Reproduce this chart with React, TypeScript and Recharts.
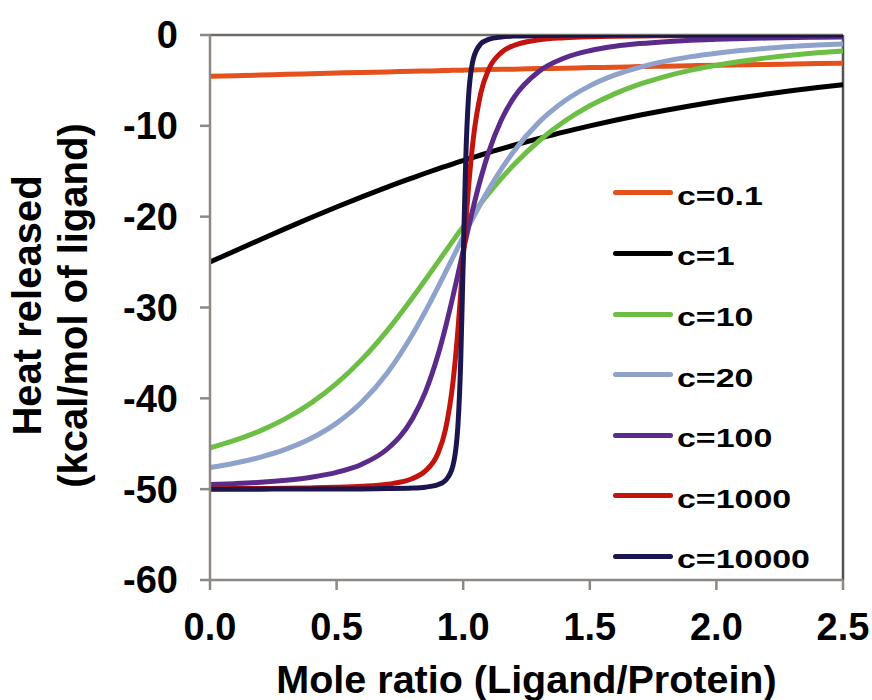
import React from 'react';
import { LineChart, Line, XAxis, YAxis, ReferenceLine, Legend } from 'recharts';

// Mole ratio (Ligand/Protein) sample positions
const moleRatio = [0, 0.1, 0.2, 0.3, 0.4, 0.5, 0.6, 0.7, 0.8, 0.85, 0.9, 0.93, 0.96, 0.98, 0.99, 1.0, 1.01, 1.02, 1.04, 1.07, 1.1, 1.15, 1.2, 1.3, 1.4, 1.5, 1.6, 1.7, 1.8, 1.9, 2.0, 2.2, 2.4, 2.5];

// Heat released (kcal/mol of ligand)
const heatC01 = [-4.55, -4.48, -4.41, -4.33, -4.26, -4.19, -4.12, -4.06, -3.99, -3.96, -3.93, -3.91, -3.89, -3.88, -3.88, -3.87, -3.86, -3.86, -3.85, -3.83, -3.81, -3.78, -3.76, -3.7, -3.65, -3.59, -3.54, -3.48, -3.43, -3.38, -3.33, -3.24, -3.15, -3.1];
const heatC1 = [-25.0, -23.75, -22.51, -21.29, -20.1, -18.94, -17.82, -16.74, -15.72, -15.22, -14.74, -14.46, -14.18, -14.0, -13.91, -13.82, -13.73, -13.64, -13.47, -13.21, -12.95, -12.54, -12.14, -11.38, -10.66, -10.0, -9.38, -8.81, -8.28, -7.78, -7.32, -6.5, -5.79, -5.48];
const heatC10 = [-45.45, -44.61, -43.55, -42.21, -40.5, -38.36, -35.71, -32.54, -28.9, -26.97, -25.0, -23.82, -22.64, -21.86, -21.48, -21.1, -20.72, -20.34, -19.6, -18.51, -17.46, -15.81, -14.29, -11.64, -9.5, -7.79, -6.45, -5.39, -4.55, -3.87, -3.33, -2.52, -1.96, -1.75];
const heatC20 = [-47.62, -47.12, -46.47, -45.6, -44.4, -42.73, -40.41, -37.2, -32.95, -30.46, -27.78, -26.12, -24.44, -23.33, -22.77, -22.22, -21.68, -21.13, -20.07, -18.52, -17.05, -14.79, -12.8, -9.59, -7.27, -5.6, -4.4, -3.53, -2.88, -2.38, -2.0, -1.46, -1.11, -0.98];
const heatC100 = [-49.5, -49.39, -49.24, -49.01, -48.68, -48.15, -47.25, -45.58, -42.22, -39.34, -35.26, -32.18, -28.71, -26.25, -25.0, -23.75, -22.51, -21.29, -18.94, -15.72, -12.95, -9.38, -6.9, -3.99, -2.53, -1.73, -1.24, -0.94, -0.73, -0.58, -0.48, -0.33, -0.25, -0.22];
const heatC1000 = [-49.95, -49.94, -49.92, -49.9, -49.86, -49.8, -49.69, -49.46, -48.83, -48.01, -46.07, -43.43, -38.12, -32.19, -28.52, -24.6, -20.72, -17.12, -11.4, -6.33, -3.81, -1.94, -1.15, -0.53, -0.31, -0.2, -0.14, -0.1, -0.08, -0.06, -0.05, -0.04, -0.03, -0.02];
const heatC10000 = [-50.0, -50.0, -50.0, -49.99, -49.99, -49.98, -49.97, -49.94, -49.88, -49.78, -49.51, -49.04, -47.35, -42.63, -36.09, -24.88, -13.73, -7.28, -2.63, -0.96, -0.48, -0.22, -0.12, -0.06, -0.03, -0.02, -0.01, -0.01, -0.01, 0, 0, 0, 0, 0];

const seriesKeys = ['c01', 'c1', 'c10', 'c20', 'c100', 'c1000', 'c10000'];
const seriesNames = ['c=0.1', 'c=1', 'c=10', 'c=20', 'c=100', 'c=1000', 'c=10000'];
const seriesColors = ['#E4511C', '#000000', '#6DBE44', '#8EA2CB', '#5A2B8B', '#C3130D', '#1C1650'];
const seriesValues = [heatC01, heatC1, heatC10, heatC20, heatC100, heatC1000, heatC10000];

const xTicks = [0, 0.5, 1, 1.5, 2, 2.5];
const yTicks = [-60, -50, -40, -30, -20, -10, 0];

const xTitle = 'Mole ratio (Ligand/Protein)';
const yTitleLine1 = 'Heat released';
const yTitleLine2 = '(kcal/mol of ligand)';

const data = moleRatio.map((x, i) => {
  const row: Record<string, number> = { x };
  seriesKeys.forEach((k, j) => {
    row[k] = seriesValues[j][i];
  });
  return row;
});

const FONT = '"Liberation Sans", Arial, Helvetica, sans-serif';
const AXIS_GRAY = '#8d8884';

function LegendContent() {
  return (
    <div style={{ fontFamily: FONT }}>
      {seriesNames.map((name, i) => (
        <div key={name} style={{ display: 'flex', alignItems: 'center', height: 60.6 }}>
          <div style={{ width: 60, height: 5, background: seriesColors[i], borderRadius: 2.5 }} />
          <span
            style={{
              display: 'inline-block',
              marginLeft: 4,
              marginTop: 7,
              fontSize: 25.5,
              fontWeight: 'bold',
              lineHeight: 1,
              color: '#000',
              transform: 'scaleX(1.33)',
              transformOrigin: 'left center',
              whiteSpace: 'nowrap',
            }}
          >
            {name}
          </span>
        </div>
      ))}
    </div>
  );
}

function XTitle(props: any) {
  const vb = props.viewBox || { x: 210, y: 580, width: 633 };
  return (
    <text
      x={vb.x + vb.width / 2}
      y={vb.y + 113}
      textAnchor="middle"
      fontFamily={FONT}
      fontWeight="bold"
      fontSize={39.5}
      fill="#000"
    >
      {xTitle}
    </text>
  );
}

function YTitle(props: any) {
  const vb = props.viewBox || { y: 35, height: 545 };
  const cy = vb.y + vb.height / 2 - 2;
  const x1 = 41;
  const x2 = 87;
  return (
    <g>
      <text
        x={x1}
        y={cy}
        transform={`rotate(-90, ${x1}, ${cy})`}
        textAnchor="middle"
        fontFamily={FONT}
        fontWeight="bold"
        fontSize={40}
        fill="#000"
      >
        {yTitleLine1}
      </text>
      <text
        x={x2}
        y={cy}
        transform={`rotate(-90, ${x2}, ${cy})`}
        textAnchor="middle"
        fontFamily={FONT}
        fontWeight="bold"
        fontSize={40}
        fill="#000"
      >
        {yTitleLine2}
      </text>
    </g>
  );
}

const tickStyle = { fontFamily: FONT, fontWeight: 'bold', fontSize: 38, fill: '#000' };

export default function App() {
  return (
    <div style={{ position: 'absolute', left: 0, top: 0, width: 872, height: 700, background: '#fff' }}>
      <LineChart
        width={872}
        height={700}
        data={data}
        margin={{ top: 35, right: 29, bottom: 60, left: 110 }}
      >
        <XAxis
          dataKey="x"
          type="number"
          domain={[0, 2.5]}
          ticks={xTicks}
          tickFormatter={(v: number) => v.toFixed(1)}
          height={60}
          tickSize={10}
          tickMargin={23}
          axisLine={{ stroke: AXIS_GRAY, strokeWidth: 2.5 }}
          tickLine={{ stroke: AXIS_GRAY, strokeWidth: 2.5 }}
          tick={tickStyle}
          interval={0}
          allowDataOverflow
          label={XTitle}
        />
        <YAxis
          type="number"
          domain={[-60, 0]}
          ticks={yTicks}
          width={100}
          tickSize={10}
          tickMargin={22}
          axisLine={{ stroke: AXIS_GRAY, strokeWidth: 2.5 }}
          tickLine={{ stroke: AXIS_GRAY, strokeWidth: 2.5 }}
          tick={tickStyle}
          interval={0}
          allowDataOverflow
          label={YTitle}
        />
        <ReferenceLine y={0} stroke="#6f6b67" strokeWidth={2.5} />
        <ReferenceLine x={2.5} stroke="#55524f" strokeWidth={2.5} />
        <Legend
          layout="vertical"
          align="center"
          verticalAlign="middle"
          content={<LegendContent />}
          wrapperStyle={{ left: 613, top: 162.7, width: 240 }}
        />
        {seriesKeys.map((k, i) => (
          <Line
            key={k}
            dataKey={k}
            name={seriesNames[i]}
            type="monotone"
            stroke={seriesColors[i]}
            strokeWidth={5}
            dot={false}
            activeDot={false}
            isAnimationActive={false}
          />
        ))}
      </LineChart>
    </div>
  );
}
